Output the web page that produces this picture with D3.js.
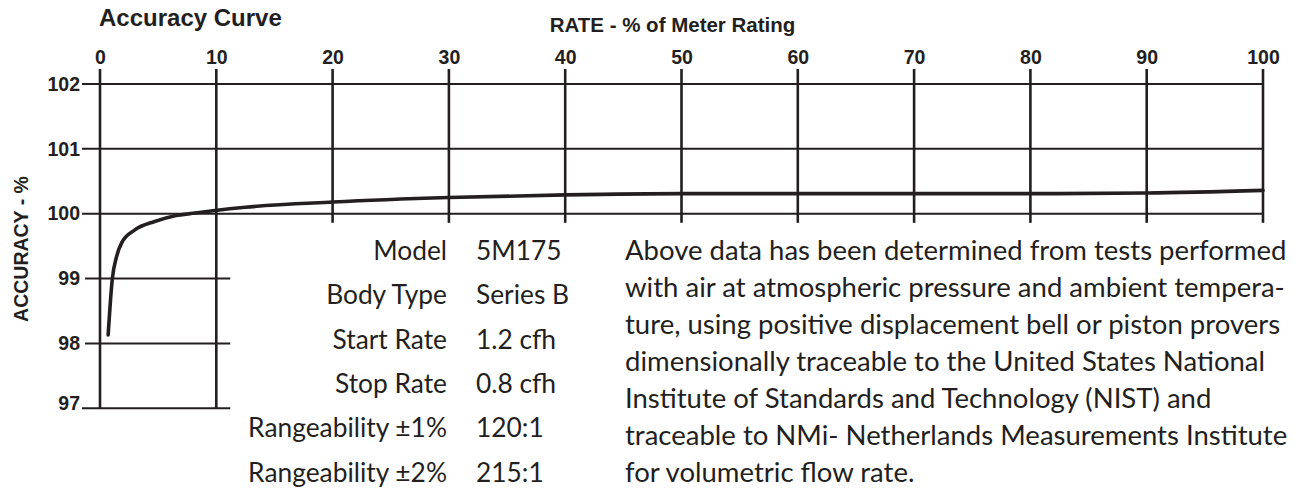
<!DOCTYPE html>
<html>
<head>
<meta charset="utf-8">
<script src="https://cdn.jsdelivr.net/npm/d3@7"></script>
<style>
  body { margin: 0; background: #fff; }
  svg { display: block; }
</style>
</head>
<body>
<div id="svgDiv"></div>
<script>
// chart values
var rateTicks = [0, 10, 20, 30, 40, 50, 60, 70, 80, 90, 100];
var accuracyTicks = [97, 98, 99, 100, 101, 102];
var curveRate     = [0.7, 1.06, 1.43, 1.86, 3.0, 4.7, 6.45, 8.2, 9.9, 12.5, 20, 30, 40, 50, 60, 70, 80, 90, 100];
var curveAccuracy = [98.13, 99.0, 99.34, 99.55, 99.75, 99.88, 99.97, 100.01, 100.05, 100.1, 100.18, 100.25, 100.29, 100.31, 100.31, 100.31, 100.31, 100.32, 100.36];
var specLabels = ["Model", "Body Type", "Start Rate", "Stop Rate", "Rangeability \u00b11%", "Rangeability \u00b12%"];
var specValues = ["5M175", "Series B", "1.2 cfh", "0.8 cfh", "120:1", "215:1"];
var noteLines = [
  "Above data has been determined from tests performed",
  "with air at atmospheric pressure and ambient tempera-",
  "ture, using positive displacement bell or piston provers",
  "dimensionally traceable to the United States National",
  "Institute of Standards and Technology (NIST) and",
  "traceable to NMi- Netherlands Measurements Institute",
  "for volumetric flow rate."
];

var width = 1295, height = 491,
    ink = "#231f20",
    boldFont = "'Liberation Sans', Arial, Helvetica, sans-serif",
    textFont = "Lato, 'Open Sans', sans-serif";

var svg = d3.select("#svgDiv").append("svg")
    .attr("width", width)
    .attr("height", height);

var x = d3.scaleLinear().domain([0, 100]).range([100, 1263]),
    y = d3.scaleLinear().domain([97, 102]).range([408.3, 84]);

// grid: full width rows from 100 up, short rows below it
var shortRowEnd = 11.2, shortColEnd = 99.86;
var grid = svg.append("g");
grid.selectAll("line.row")
    .data(accuracyTicks).enter().append("line")
    .attr("class", "row")
    .attr("x1", function(d){ return d == 99 || d == 98 ? 85 : 82; })
    .attr("x2", function(d){ return d >= 100 ? x(100) : x(shortRowEnd); })
    .attr("y1", function(d){ return y(d); })
    .attr("y2", function(d){ return y(d); })
    .attr("stroke", ink)
    .attr("stroke-width", 2);
grid.selectAll("line.col")
    .data(rateTicks).enter().append("line")
    .attr("class", "col")
    .attr("x1", function(d){ return x(d); })
    .attr("x2", function(d){ return x(d); })
    .attr("y1", 69)
    .attr("y2", function(d){ return d <= 10 ? y(97) : y(shortColEnd); })
    .attr("stroke", ink)
    .attr("stroke-width", 2.6);

// axes (labels only)
var xAxis = svg.append("g")
    .attr("transform", "translate(0,69)")
    .call(d3.axisTop(x).tickValues(rateTicks).tickFormat(d3.format("d")).tickSize(0).tickPadding(5));
var yAxis = svg.append("g")
    .attr("transform", "translate(82,0)")
    .call(d3.axisLeft(y).tickValues(accuracyTicks).tickFormat(d3.format("d")).tickSize(0).tickPadding(2));
[xAxis, yAxis].forEach(function(axis){
  axis.select(".domain").remove();
  axis.selectAll("text")
      .attr("font-family", boldFont)
      .attr("font-weight", "bold")
      .attr("font-size", 19.5)
      .attr("fill", ink);
});
yAxis.selectAll(".tick text").filter(function(d){ return d == 97; }).attr("dy", "0.05em");

// accuracy curve
var line = d3.line()
    .x(function(d){ return x(d[0]); })
    .y(function(d){ return y(d[1]); })
    .curve(d3.curveMonotoneX);
svg.append("path")
    .datum(d3.zip(curveRate, curveAccuracy))
    .attr("d", line)
    .attr("fill", "none")
    .attr("stroke", ink)
    .attr("stroke-width", 3.6)
    .attr("stroke-linecap", "round");

// titles
svg.append("text")
    .attr("x", 99).attr("y", 26)
    .attr("font-family", boldFont).attr("font-weight", "bold")
    .attr("font-size", 24).attr("fill", ink)
    .text("Accuracy Curve");
svg.append("text")
    .attr("x", 672.5).attr("y", 31.7)
    .attr("text-anchor", "middle")
    .attr("font-family", boldFont).attr("font-weight", "bold")
    .attr("font-size", 20.5).attr("fill", ink)
    .text("RATE - % of Meter Rating");
svg.append("text")
    .attr("transform", "translate(28.3,249) rotate(-90)")
    .attr("text-anchor", "middle")
    .attr("font-family", boldFont).attr("font-weight", "bold")
    .attr("font-size", 19.5).attr("fill", ink)
    .text("ACCURACY - %");

// size a text block so one reference line gets the wanted width
function fitSize(str, target){
  var t = svg.append("text").attr("font-family", textFont).attr("font-size", 20).text(str);
  var w = t.node().getComputedTextLength();
  t.remove();
  return 20 * target / w;
}

var specSize = fitSize(specLabels[4], 199),
    noteSize = fitSize(noteLines[0], 662);

var specs = svg.append("g");
specs.selectAll("text.label")
    .data(specLabels).enter().append("text")
    .attr("class", "label")
    .attr("x", 447)
    .attr("y", function(d, i){ return 260 + i * 44.3; })
    .attr("text-anchor", "end")
    .attr("font-family", textFont)
    .attr("font-size", specSize)
    .attr("fill", ink)
    .text(function(d){ return d; });
specs.selectAll("text.value")
    .data(specValues).enter().append("text")
    .attr("class", "value")
    .attr("x", 476)
    .attr("y", function(d, i){ return 260 + i * 44.3; })
    .attr("font-family", textFont)
    .attr("font-size", specSize)
    .attr("fill", ink)
    .text(function(d){ return d; });

svg.append("g").selectAll("text")
    .data(noteLines).enter().append("text")
    .attr("x", 625)
    .attr("y", function(d, i){ return 260 + i * 36.95; })
    .attr("font-family", textFont)
    .attr("font-size", noteSize)
    .attr("fill", ink)
    .text(function(d){ return d; });
</script>
</body>
</html>
